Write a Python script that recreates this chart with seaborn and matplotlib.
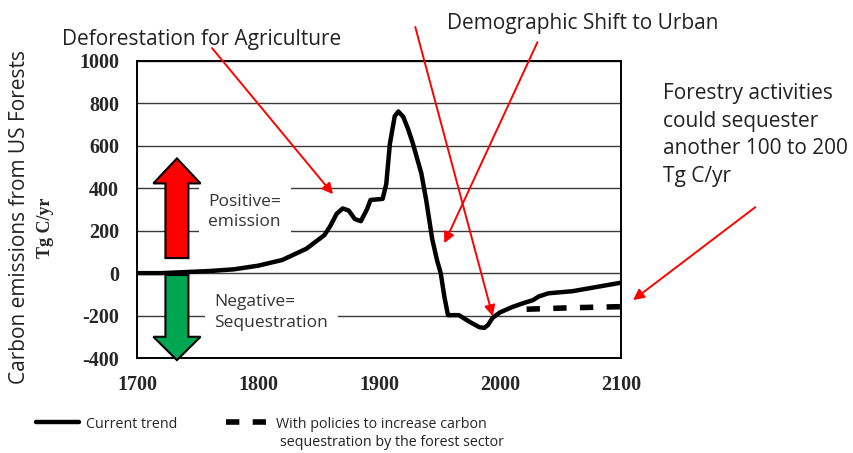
import matplotlib
matplotlib.use("Agg")
import matplotlib.pyplot as plt
import matplotlib.patches as mpatches
import seaborn as sns

# carbon flux from US forests, Tg C/yr
trend_years = [1700, 1720, 1740, 1760, 1780, 1800, 1820, 1840, 1855, 1860,
               1865, 1870, 1875, 1880, 1885, 1890, 1893, 1903, 1906, 1909,
               1913, 1916, 1920, 1924, 1928, 1935, 1939, 1944, 1948, 1951,
               1954, 1957, 1966, 1975, 1983, 1987, 1990, 1994, 2000, 2010,
               2020, 2027, 2032, 2040, 2060, 2080, 2100]
trend_values = [0, 0, 5, 10, 18, 35, 62, 115, 180, 225,
                280, 305, 295, 255, 245, 300, 345, 350, 420, 610,
                740, 762, 737, 680, 611, 470, 344, 160, 60, 0,
                -110, -198, -198, -230, -255, -258, -245, -210, -185, -160,
                -140, -128, -110, -95, -85, -65, -45]

policy_years = [2022, 2060, 2100]
policy_values = [-170, -163, -158]

yticks = [-400, -200, 0, 200, 400, 600, 800, 1000]
xticks = [1700, 1800, 1900, 2000, 2100]

W, H = 854, 453


def fx(px):
    return px / W


def fy(py):
    return 1 - py / H


sns.set_style("white")
plt.rcParams["font.family"] = ["Open Sans", "DejaVu Sans"]
plt.rcParams["axes.unicode_minus"] = False

fig = plt.figure(figsize=(8.54, 4.53), dpi=100)
ax = fig.add_axes([fx(137), fy(358), fx(621) - fx(137), fy(61) - fy(358)])

sns.lineplot(x=trend_years, y=trend_values, color="black", lw=3.2, ax=ax,
             label="Current trend", zorder=3)
sns.lineplot(x=policy_years, y=policy_values, color="black", lw=4, ax=ax,
             linestyle=(0, (2.4, 2.4)), zorder=3,
             label="With policies to increase carbon")

ax.set_xlim(1700, 2100)
ax.set_ylim(-400, 1000)
ax.set_xticks(xticks)
ax.set_yticks(yticks)
ax.set_axisbelow(True)
ax.yaxis.grid(True, color="#3a3a3a", lw=1.0)
ax.xaxis.grid(False)
for s in ax.spines.values():
    s.set_color("black")
    s.set_linewidth(1.4)
ax.tick_params(axis="y", direction="out", length=10, width=1.3, pad=3)
ax.tick_params(axis="x", direction="out", length=7, width=1.3, pad=5)
for lab in ax.get_xticklabels() + ax.get_yticklabels():
    lab.set_fontfamily("Liberation Serif")
    lab.set_fontweight("bold")
    lab.set_fontsize(14.5)
ax.set_xlabel("")
ax.set_ylabel("")

# legend below the chart
handles, labels = ax.get_legend_handles_labels()
ax.get_legend().remove()
fig.legend(handles, labels, loc="center left", bbox_to_anchor=(fx(36), fy(424)),
           ncol=2, frameon=False, fontsize=10.3, handlelength=3.0,
           handletextpad=0.5, columnspacing=3.4, borderaxespad=0, borderpad=0)
fig.text(fx(280), fy(443), "sequestration by the forest sector", fontsize=10.3,
         ha="left", va="center", color="#222222")

# axis titles
fig.text(fx(20), fy(217), "Carbon emissions from US Forests", rotation=90,
         ha="center", va="center", fontsize=15, color="#222222")
fig.text(fx(46), fy(228), "Tg C/yr", rotation=90, ha="center", va="center",
         fontsize=13, fontweight="bold", family="Liberation Serif")

# big sign arrows
ax.add_patch(mpatches.FancyArrow(1733, 71, 0, 470, width=19, head_width=39,
                                 head_length=118, length_includes_head=True,
                                 fc="#ff0000", ec="black", lw=1.5, zorder=4))
ax.add_patch(mpatches.FancyArrow(1733, -9, 0, -401, width=19, head_width=39,
                                 head_length=110, length_includes_head=True,
                                 fc="#00a651", ec="black", lw=1.5, zorder=4,
                                 clip_on=False))

# in-plot notes with white backing that breaks the grid lines
ax.text(1759, 288, "Positive=\nemission", fontsize=12.5, va="center", ha="left",
        color="#333333", linespacing=1.4, zorder=1.5,
        bbox=dict(fc="white", ec="none", pad=7))
ax.text(1764, -184, "Negative=\nSequestration", fontsize=12.5, va="center", ha="left",
        color="#333333", linespacing=1.4, zorder=1.5,
        bbox=dict(fc="white", ec="none", pad=7))

# headline notes
fig.text(fx(62), fy(45), "Deforestation for Agriculture", fontsize=15,
         va="baseline", ha="left", color="#222222")
fig.text(fx(447), fy(29), "Demographic Shift to Urban", fontsize=15,
         va="baseline", ha="left", color="#222222")
fig.text(fx(663), fy(83), "Forestry activities\ncould sequester\nanother 100 to 200\nTg C/yr",
         fontsize=15, va="top", ha="left", color="#222222", linespacing=1.42)

arrow_kw = dict(arrowstyle="-|>", color="#ff0000", lw=1.4, mutation_scale=16,
                shrinkA=0, shrinkB=0)
for tail, head in [((1762, 1061), (1862, 372)),
                   ((1930, 1160), (1994, -203)),
                   ((2031, 1089), (1954, 141)),
                   ((2211, 311), (2110, -127))]:
    ax.annotate("", xy=head, xytext=tail, arrowprops=arrow_kw,
                annotation_clip=False, zorder=5)

fig.savefig("out.png", dpi=100)
